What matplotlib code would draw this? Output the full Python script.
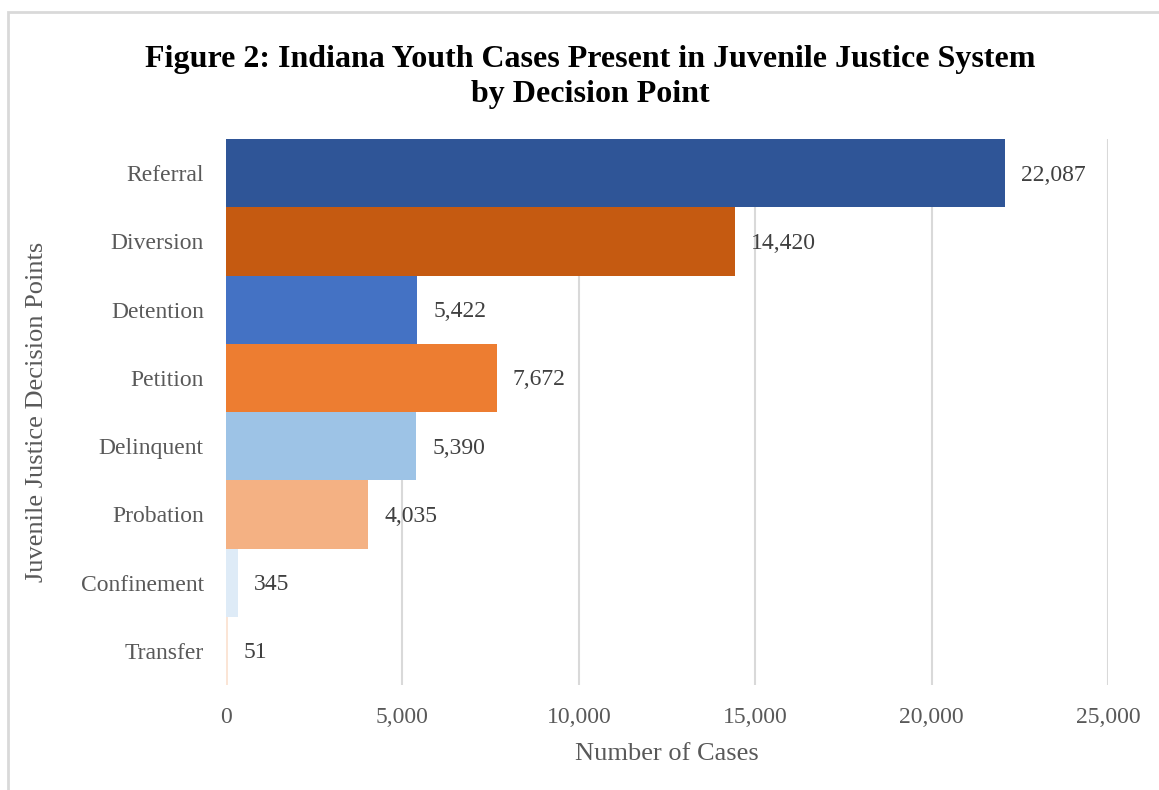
import matplotlib.pyplot as plt
from matplotlib.patches import Rectangle

categories = ['Referral', 'Diversion', 'Detention', 'Petition',
              'Delinquent', 'Probation', 'Confinement', 'Transfer']
cases = [22087, 14420, 5422, 7672, 5390, 4035, 345, 51]
colors = ['#2F5597', '#C55A11', '#4472C4', '#ED7D31',
          '#9DC3E6', '#F4B183', '#DEEBF7', '#FBE5D6']
x_ticks = [0, 5000, 10000, 15000, 20000, 25000]

plt.rcParams['font.family'] = ['Liberation Serif', 'DejaVu Serif']

W, H = 1159, 790
fig = plt.figure(figsize=(W / 100, H / 100), dpi=100)
ax = fig.add_axes([226 / W, 1 - 685 / H, (1108 - 226) / W, (685 - 139) / H])

# chart frame
fig.patches.append(Rectangle((8 / W, -0.1), 1.2, 1 - 12 / H + 0.1,
                             transform=fig.transFigure, fill=False,
                             edgecolor='#D9D9D9', linewidth=2))

pos = list(range(len(categories)))
bars = ax.barh(pos, cases, height=1.0, color=colors, zorder=2)
ax.set_ylim(len(categories) - 0.5, -0.5)
ax.set_xlim(0, 25000)

ax.set_xticks(x_ticks)
ax.set_xticklabels([f'{t:,}' for t in x_ticks])
ax.set_yticks(pos)
ax.set_yticklabels(categories)
ax.tick_params(length=0, labelsize=17, labelcolor='#595959')
ax.tick_params(axis='x', pad=16)
ax.tick_params(axis='y', pad=16)
ax.grid(axis='x', color='#D9D9D9', linewidth=1.5, zorder=0)
for s in ax.spines.values():
    s.set_visible(False)

for bar, val in zip(bars, cases):
    ax.annotate(f'{val:,}', (bar.get_width(), bar.get_y() + bar.get_height() / 2),
                xytext=(16, -2), textcoords='offset pixels',
                va='center', ha='left', fontsize=17, color='#404040')

ax.set_xlabel('Number of Cases', fontsize=19, color='#595959', labelpad=11)
ax.set_ylabel('Juvenile Justice Decision Points', fontsize=19, color='#595959')
ax.yaxis.set_label_coords(48 / W, 1 - 412 / H, transform=fig.transFigure)

fig.text(590 / W, 1 - 77 / H,
         'Figure 2: Indiana Youth Cases Present in Juvenile Justice System\nby Decision Point',
         ha='center', va='center', fontsize=23, fontweight='bold', linespacing=1.3)

fig.savefig('out.png', dpi=100)
